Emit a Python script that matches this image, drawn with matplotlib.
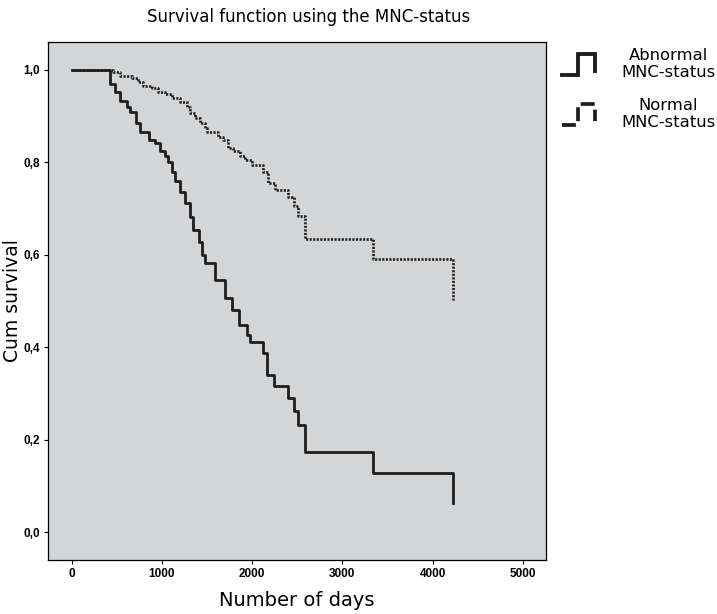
import matplotlib
matplotlib.use('Agg')
import matplotlib.pyplot as plt
from matplotlib.legend_handler import HandlerBase
from matplotlib.lines import Line2D
from matplotlib.ticker import FuncFormatter

# Kaplan-Meier steps: time of each drop and survival after it
abnormal_days = [0, 431, 486, 541, 619, 652, 718, 762, 862, 928, 983, 1039, 1072,
                 1116, 1149, 1204, 1260, 1315, 1348, 1414, 1448, 1481, 1591, 1702,
                 1779, 1856, 1945, 1978, 2122, 2166, 2243, 2398, 2464, 2508, 2586,
                 3337, 4221]
abnormal_surv = [1.0, 0.968, 0.952, 0.931, 0.920, 0.909, 0.885, 0.866, 0.848, 0.842,
                 0.823, 0.812, 0.801, 0.779, 0.758, 0.736, 0.712, 0.682, 0.654, 0.628,
                 0.600, 0.582, 0.545, 0.506, 0.481, 0.448, 0.426, 0.411, 0.387, 0.340,
                 0.316, 0.290, 0.262, 0.232, 0.173, 0.128, 0.063]

normal_days = [0, 464, 541, 674, 740, 796, 895, 961, 1039, 1116, 1204, 1282, 1315,
               1370, 1425, 1481, 1503, 1624, 1680, 1735, 1790, 1867, 1923, 2000,
               2122, 2177, 2254, 2398, 2464, 2508, 2586, 3337, 4221]
normal_surv = [1.0, 0.994, 0.987, 0.981, 0.974, 0.965, 0.961, 0.952, 0.946, 0.939,
               0.929, 0.918, 0.907, 0.896, 0.885, 0.874, 0.866, 0.855, 0.848, 0.831,
               0.823, 0.812, 0.805, 0.794, 0.779, 0.755, 0.740, 0.725, 0.706, 0.684,
               0.634, 0.591, 0.502]

x_ticks = [0, 1000, 2000, 3000, 4000, 5000]
y_ticks = [0.0, 0.2, 0.4, 0.6, 0.8, 1.0]
labels = ['Abnormal\nMNC-status', 'Normal\nMNC-status']

LINE_COLOR = '#1e1e1e'
BG = '#d4d5d7'


class StepHandler(HandlerBase):
    # legend glyph shaped like a little survival step
    def create_artists(self, legend, orig_handle, xdescent, ydescent,
                       width, height, fontsize, trans):
        x0, y0 = -xdescent, -ydescent
        xs = [x0, x0 + 0.5 * width, x0 + 0.5 * width, x0 + width, x0 + width]
        ys = [y0, y0, y0 + height, y0 + height, y0 + 0.2 * height]
        line = Line2D(xs, ys, color=orig_handle.get_color(),
                      linewidth=orig_handle.get_linewidth() + 0.8,
                      linestyle=orig_handle.get_linestyle(),
                      solid_joinstyle='miter', transform=trans)
        return [line]


fig = plt.figure(figsize=(7.17, 6.14), dpi=100)
ax = fig.add_axes([0.067, 0.088, 0.694, 0.844])
ax.set_facecolor(BG)

l1, = ax.plot(abnormal_days, abnormal_surv, drawstyle='steps-post',
              color=LINE_COLOR, linewidth=2.0, label=labels[0])
l2, = ax.plot(normal_days, normal_surv, drawstyle='steps-post',
              color=LINE_COLOR, linewidth=1.9, linestyle=(0, (0.8, 0.55)),
              label=labels[1])

ax.set_xlim(-260, 5250)
ax.set_ylim(-0.06, 1.06)
ax.set_xticks(x_ticks)
ax.set_yticks(y_ticks)
ax.yaxis.set_major_formatter(FuncFormatter(lambda v, p: f'{v:.1f}'.replace('.', ',')))
ax.tick_params(direction='out', length=3, width=0.8, labelsize=8.5, pad=3)
for lab in ax.get_xticklabels() + ax.get_yticklabels():
    lab.set_fontfamily('Liberation Sans')
    lab.set_fontweight('bold')
for sp in ax.spines.values():
    sp.set_linewidth(0.9)

ax.set_xlabel('Number of days', fontsize=14, labelpad=8)
ax.set_ylabel('Cum survival', fontsize=13.5)
ax.yaxis.set_label_coords(-0.052, 0.5)
fig.text(0.43, 0.972, 'Survival function using the MNC-status',
         fontsize=12, ha='center', va='center')

leg = ax.legend(handles=[l1, l2], handler_map={Line2D: StepHandler()},
                loc='upper left', bbox_to_anchor=(1.01, 1.01), frameon=False,
                fontsize=11.8, handlelength=2.0, handleheight=1.6,
                handletextpad=1.6, labelspacing=1.05, borderaxespad=0.3)
for t in leg.get_texts():
    t.set_multialignment('center')

fig.savefig('out.png', dpi=100)
